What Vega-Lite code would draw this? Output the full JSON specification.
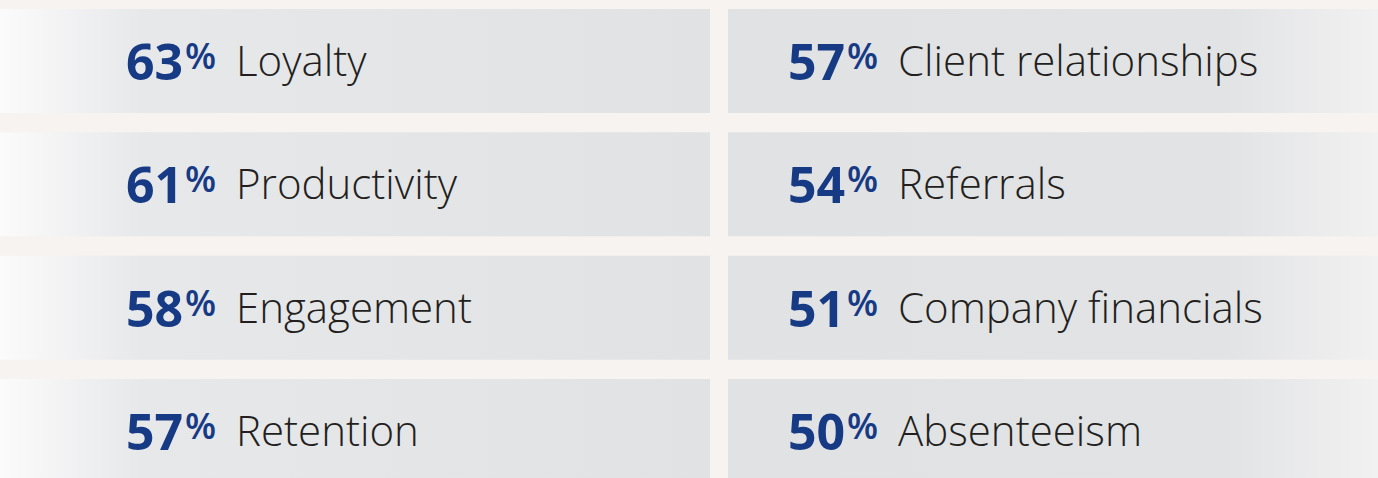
{
  "$schema": "https://vega.github.io/schema/vega-lite/v6.json",
  "width": 1378,
  "height": 478,
  "autosize": {"type": "fit", "contains": "padding"},
  "padding": 0,
  "background": "#f6f3f0",
  "config": {"view": {"stroke": null}},
  "data": {
    "values": [
      {"col": 1, "row": 1, "value": 63, "label": "Loyalty"},
      {"col": 1, "row": 2, "value": 61, "label": "Productivity"},
      {"col": 1, "row": 3, "value": 58, "label": "Engagement"},
      {"col": 1, "row": 4, "value": 57, "label": "Retention"},
      {"col": 2, "row": 1, "value": 57, "label": "Client relationships"},
      {"col": 2, "row": 2, "value": 54, "label": "Referrals"},
      {"col": 2, "row": 3, "value": 51, "label": "Company financials"},
      {"col": 2, "row": 4, "value": 50, "label": "Absenteeism"}
    ]
  },
  "resolve": {"scale": {"x": "independent"}},
  "layer": [
    {
      "transform": [{"filter": "datum.col == 1"}],
      "mark": {
        "type": "rect",
        "clip": true,
        "color": {
          "gradient": "linear",
          "x1": 0, "y1": 0, "x2": 1, "y2": 0,
          "stops": [
            {"offset": 0, "color": "#fbfbfb"},
            {"offset": 0.2, "color": "#e7e8ea"},
            {"offset": 1, "color": "#e1e2e4"}
          ]
        }
      },
      "encoding": {
        "x": {"field": "col", "type": "ordinal", "axis": null,
              "scale": {"type": "band", "domain": [1, 2], "range": [0, 1438], "paddingInner": 0.0247, "paddingOuter": 0}},
        "y": {"field": "row", "type": "ordinal", "axis": null,
              "scale": {"type": "band", "domain": [1, 2, 3, 4], "range": [9, 483], "paddingInner": 0.157, "paddingOuter": 0}}
      }
    },
    {
      "transform": [{"filter": "datum.col == 2"}],
      "mark": {
        "type": "rect",
        "clip": true,
        "color": {
          "gradient": "linear",
          "x1": 0, "y1": 0, "x2": 1, "y2": 0,
          "stops": [
            {"offset": 0, "color": "#e1e2e4"},
            {"offset": 0.7, "color": "#e2e3e5"},
            {"offset": 0.93, "color": "#f2f2f2"}
          ]
        }
      },
      "encoding": {
        "x": {"field": "col", "type": "ordinal", "axis": null,
              "scale": {"type": "band", "domain": [1, 2], "range": [0, 1438], "paddingInner": 0.0247, "paddingOuter": 0}},
        "y": {"field": "row", "type": "ordinal", "axis": null,
              "scale": {"type": "band", "domain": [1, 2, 3, 4], "range": [9, 483], "paddingInner": 0.157, "paddingOuter": 0}}
      }
    },
    {
      "mark": {"type": "text", "align": "left", "baseline": "alphabetic", "dy": 19,
               "font": "Open Sans", "fontWeight": "bold", "fontSize": 50, "color": "#173a85"},
      "encoding": {
        "x": {"field": "col", "type": "ordinal", "axis": null,
              "scale": {"type": "point", "domain": [1, 2], "range": [126, 788], "padding": 0}},
        "y": {"field": "row", "type": "ordinal", "axis": null},
        "text": {"field": "value", "type": "quantitative"}
      }
    },
    {
      "mark": {"type": "text", "align": "left", "baseline": "alphabetic", "dx": 59, "dy": 8,
               "font": "Open Sans", "fontWeight": 600, "fontSize": 36, "color": "#173a85"},
      "encoding": {
        "x": {"field": "col", "type": "ordinal", "axis": null,
              "scale": {"type": "point", "domain": [1, 2], "range": [126, 788], "padding": 0}},
        "y": {"field": "row", "type": "ordinal", "axis": null},
        "text": {"value": "%"}
      }
    },
    {
      "mark": {"type": "text", "align": "left", "baseline": "alphabetic", "dx": 110, "dy": 15,
               "font": "Open Sans", "fontWeight": 300, "fontSize": 42, "color": "#231f20"},
      "encoding": {
        "x": {"field": "col", "type": "ordinal", "axis": null,
              "scale": {"type": "point", "domain": [1, 2], "range": [126, 788], "padding": 0}},
        "y": {"field": "row", "type": "ordinal", "axis": null},
        "text": {"field": "label", "type": "nominal"}
      }
    }
  ]
}
